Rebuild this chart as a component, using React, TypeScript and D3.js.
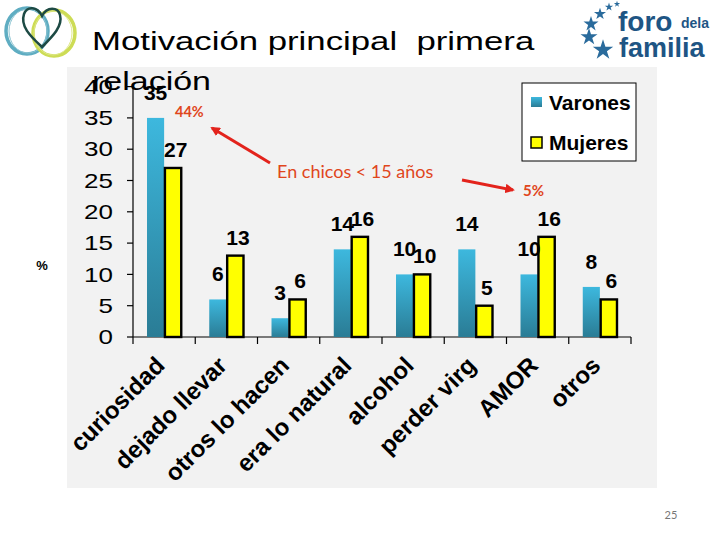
import React from "react";
import * as d3 from "d3";

const categories = ["curiosidad", "dejado llevar", "otros lo hacen", "era lo natural", "alcohol", "perder virg", "AMOR", "otros"];
const varones = [35, 6, 3, 14, 10, 14, 10, 8];
const mujeres = [27, 13, 6, 16, 10, 5, 16, 6];
const series = ["Varones", "Mujeres"];
const yTicks = [0, 5, 10, 15, 20, 25, 30, 35, 40];
const titleLine1 = "Motivación principal  primera";
const titleLine2 = "relación";

const W = 720;
const H = 540;
const ARIAL = "'Liberation Sans', Arial, sans-serif";
const CAL = "Lato, 'Open Sans', sans-serif";

export default function App() {
  const x0 = d3.scaleBand<string>().domain(categories).range([133, 631]).paddingInner(0).paddingOuter(0);
  const bw = x0.bandwidth();
  const x1 = d3.scaleBand<string>().domain(series).range([bw * 0.225, bw * 0.775]).padding(0);
  const y = d3.scaleLinear().domain([0, 40]).range([337, 86.6]);
  const barW = x1.bandwidth();

  const starPath = (size: number) => d3.symbol().type(d3.symbolStar).size(size)() as string;

  const heart = "M42,47 C30,36 20,26 24,14 C27,6 37,6 42,16 C47,6 58,7 60,15 C63,26 53,36 42,47 Z";

  return (
    <svg width={W} height={H} style={{ position: "absolute", left: 0, top: 0, display: "block", background: "#fff" }}>
      <defs>
        <linearGradient id="blueGrad" x1="0" y1="0" x2="0" y2="1">
          <stop offset="0" stopColor="#3db8de" />
          <stop offset="1" stopColor="#2a7c95" />
        </linearGradient>
        <marker id="arrowHead" viewBox="0 0 10 10" refX="8" refY="5" markerWidth="3.2" markerHeight="3.2" orient="auto">
          <path d="M0,0 L10,5 L0,10 z" fill="#e3231c" />
        </marker>
      </defs>

      {/* left logo */}
      <g fill="none">
        <ellipse cx={27} cy={31} rx={21} ry={23} stroke="#5fadc2" strokeWidth={3.5} />
        <ellipse cx={28} cy={31} rx={19} ry={22} stroke="#8cc4d2" strokeWidth={1} />
        <ellipse cx={54} cy={33} rx={21} ry={23} stroke="#cddc55" strokeWidth={3.5} />
        <ellipse cx={53} cy={33} rx={19} ry={22} stroke="#dfe88a" strokeWidth={1} />
        <path d={heart} stroke="#1d4a44" strokeWidth={2.5} />
      </g>

      {/* right logo */}
      <g fill="#1e5584">
        {[[617, 4, 12], [609, 7, 22], [600, 14, 45], [591, 24, 70], [589, 37, 90], [603, 50, 130]].map(([sx, sy, sz], i) => (
          <path key={i} d={starPath(sz)} transform={`translate(${sx},${sy})`} fill="#2a6b9c" />
        ))}
        <text x={618} y={31} fontFamily={ARIAL} fontWeight="bold" fontSize={28}>foro</text>
        <text x={681} y={28} fontFamily={ARIAL} fontWeight="bold" fontSize={14}>dela</text>
        <text x={619} y={57} fontFamily={ARIAL} fontWeight="bold" fontSize={27}>familia</text>
      </g>

      {/* title */}
      <text transform="translate(92,50) scale(1.39,1)" fontFamily={ARIAL} fontSize={25} fill="#000" style={{ whiteSpace: "pre" }}>{titleLine1}</text>

      {/* chart panel */}
      <rect x={67} y={67} width={590} height={421} fill="#f2f2f2" />

      {/* title second line overlapping panel */}
      <text transform="translate(92,90) scale(1.36,1)" fontFamily={ARIAL} fontSize={25} fill="#000">{titleLine2}</text>

      {/* y axis */}
      <line x1={133} x2={133} y1={y(40)} y2={y(0)} stroke="#000" strokeWidth={1.2} />
      {yTicks.map((t) => (
        <g key={t}>
          <line x1={127} x2={133} y1={y(t)} y2={y(t)} stroke="#000" strokeWidth={1.2} />
          <text transform={`translate(113,${y(t)}) scale(1.3,1)`} textAnchor="end" dy="0.36em" fontFamily={ARIAL} fontSize={20} fill="#000">
            {t}
          </text>
        </g>
      ))}
      <text x={42} y={270} textAnchor="middle" fontFamily={ARIAL} fontSize={13} fontWeight="bold" fill="#000">%</text>

      {/* x axis */}
      <line x1={133} x2={631} y1={y(0)} y2={y(0)} stroke="#000" strokeWidth={1.2} />
      {[...categories.map((c) => x0(c) as number), 631].map((tx, i) => (
        <line key={i} x1={tx} x2={tx} y1={y(0)} y2={y(0) + 7} stroke="#000" strokeWidth={1.2} />
      ))}

      {/* bars */}
      {categories.map((c, i) => {
        const bx = x0(c) as number;
        const vx = bx + (x1("Varones") as number);
        const mx = bx + (x1("Mujeres") as number);
        return (
          <g key={c}>
            <rect x={vx} y={y(varones[i])} width={barW} height={y(0) - y(varones[i])} fill="url(#blueGrad)" />
            <rect x={mx + 0.8} y={y(mujeres[i])} width={barW - 0.8} height={y(0) - y(mujeres[i])} fill="#ffff00" stroke="#000" strokeWidth={2.4} />
            <text x={vx + barW / 2} y={y(varones[i]) - 18} textAnchor="middle" fontFamily={ARIAL} fontWeight="bold" fontSize={21} fill="#000">
              {varones[i]}
            </text>
            <text x={mx + barW / 2 + 3} y={y(mujeres[i]) - 11} textAnchor="middle" fontFamily={ARIAL} fontWeight="bold" fontSize={21} fill="#000">
              {mujeres[i]}
            </text>
            <text
              transform={`translate(${bx + bw / 2 + 2},367) rotate(-45)`}
              textAnchor="end"
              fontFamily={ARIAL}
              fontWeight="bold"
              fontSize={24}
              fill="#000"
            >
              {c}
            </text>
          </g>
        );
      })}

      {/* legend */}
      <rect x={522} y={83} width={114} height={78} fill="#fff" stroke="#000" strokeWidth={1} />
      <rect x={531} y={97} width={11} height={10} fill="url(#blueGrad)" />
      <text x={549} y={110} fontFamily={ARIAL} fontWeight="bold" fontSize={21} fill="#000">{series[0]}</text>
      <rect x={531} y={137} width={11} height={11} fill="#ffff00" stroke="#000" strokeWidth={1.5} />
      <text x={549} y={150} fontFamily={ARIAL} fontWeight="bold" fontSize={21} fill="#000">{series[1]}</text>

      {/* annotations */}
      <text x={175} y={117} fontFamily={CAL} fontWeight="bold" fontSize={14.5} fill="#e0461c">44%</text>
      <line x1={270} y1={163} x2={212} y2={128} stroke="#e3231c" strokeWidth={3} markerEnd="url(#arrowHead)" />
      <text x={277} y={178} fontFamily={CAL} fontSize={18} fill="#e0461c">En chicos &lt; 15 años</text>
      <line x1={462} y1={180} x2={513} y2={190} stroke="#e3231c" strokeWidth={3} markerEnd="url(#arrowHead)" />
      <text x={523} y={196} fontFamily={CAL} fontWeight="bold" fontSize={15} fill="#e0461c">5%</text>

      {/* page number */}
      <text x={671} y={519} textAnchor="middle" fontFamily={CAL} fontSize={11} fill="#777">25</text>
    </svg>
  );
}
